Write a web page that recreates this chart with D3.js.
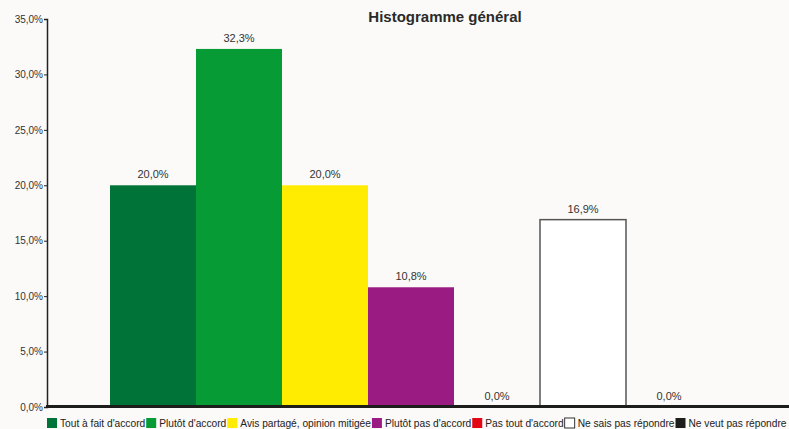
<!DOCTYPE html>
<html lang="fr">
  <head>
    <meta charset="UTF-8" />
    <title>Histogramme général</title>
    <script src="https://d3js.org/d3.v7.min.js"></script>
    <style>
      body {
        margin: 0;
        background: #fbfaf8;
        font-family: "Liberation Sans", Arial, sans-serif;
      }
      svg {
        display: block;
      }
    </style>
  </head>
  <body>
    <div id="chart"></div>
    <script>
      const categories = [
        "Tout à fait d'accord",
        "Plutôt d'accord",
        "Avis partagé, opinion mitigée",
        "Plutôt pas d'accord",
        "Pas tout d'accord",
        "Ne sais pas répondre",
        "Ne veut pas répondre",
      ];
      const values = [20.0, 32.3, 20.0, 10.8, 0.0, 16.9, 0.0];
      const colors = [
        "#007338",
        "#069b35",
        "#ffec00",
        "#9a1b81",
        "#e30613",
        "#ffffff",
        "#1d1d1b",
      ];
      const yTicks = [0, 5, 10, 15, 20, 25, 30, 35];

      const width = 789,
        height = 429;
      const fmt = (v) => v.toFixed(1).replace(".", ",") + "%";

      const svg = d3
        .select("#chart")
        .append("svg")
        .attr("width", width)
        .attr("height", height);

      const x = d3.scaleBand().domain(categories).range([110, 712]).padding(0);
      const y = d3.scaleLinear().domain([0, 35]).range([407, 19]);

      // title
      svg
        .append("text")
        .attr("x", 445)
        .attr("y", 22)
        .attr("text-anchor", "middle")
        .attr("font-size", 15)
        .attr("font-weight", "bold")
        .attr("fill", "#2a2a2a")
        .text("Histogramme général");

      // bars
      svg
        .selectAll("rect.bar")
        .data(categories)
        .enter()
        .append("rect")
        .attr("class", "bar")
        .attr("x", (d) => x(d))
        .attr("width", x.bandwidth())
        .attr("y", (d, i) => y(values[i]))
        .attr("height", (d, i) => y(0) - y(values[i]))
        .attr("fill", (d, i) => colors[i])
        .attr("stroke", (d, i) => (colors[i] === "#ffffff" ? "#555" : "none"))
        .attr("stroke-width", 1.5);

      // value labels
      svg
        .selectAll("text.val")
        .data(categories)
        .enter()
        .append("text")
        .attr("class", "val")
        .attr("x", (d) => x(d) + x.bandwidth() / 2)
        .attr("y", (d, i) => y(values[i]) - 7)
        .attr("text-anchor", "middle")
        .attr("font-size", 11)
        .attr("fill", "#333")
        .text((d, i) => fmt(values[i]));

      // y axis
      const yAxis = svg
        .append("g")
        .attr("transform", "translate(47,0)")
        .call(
          d3
            .axisLeft(y)
            .tickValues(yTicks)
            .tickSize(3)
            .tickFormat((d) => fmt(d))
        );
      yAxis.select(".domain").attr("stroke", "#222").attr("stroke-width", 1.5);
      yAxis.selectAll(".tick line").attr("stroke", "#222");
      yAxis
        .selectAll(".tick text")
        .attr("font-family", "Liberation Sans, Arial, sans-serif")
        .attr("font-size", 10)
        .attr("fill", "#333")
        .attr("x", -4);

      // baseline
      svg
        .append("line")
        .attr("x1", 46)
        .attr("x2", width)
        .attr("y1", y(0) - 0.5)
        .attr("y2", y(0) - 0.5)
        .attr("stroke", "#1d1d1b")
        .attr("stroke-width", 3);

      // legend
      const legend = svg.append("g").attr("transform", "translate(47,418)");
      let lx = 0;
      categories.forEach((c, i) => {
        legend
          .append("rect")
          .attr("x", lx)
          .attr("y", 0)
          .attr("width", 10)
          .attr("height", 10)
          .attr("fill", colors[i])
          .attr("stroke", colors[i] === "#ffffff" ? "#333" : "none");
        const t = legend
          .append("text")
          .attr("x", lx + 13)
          .attr("y", 9)
          .attr("font-size", 10.2)
          .attr("fill", "#222")
          .text(c);
        lx += 13 + t.node().getComputedTextLength() + 1;
      });
    </script>
  </body>
</html>
